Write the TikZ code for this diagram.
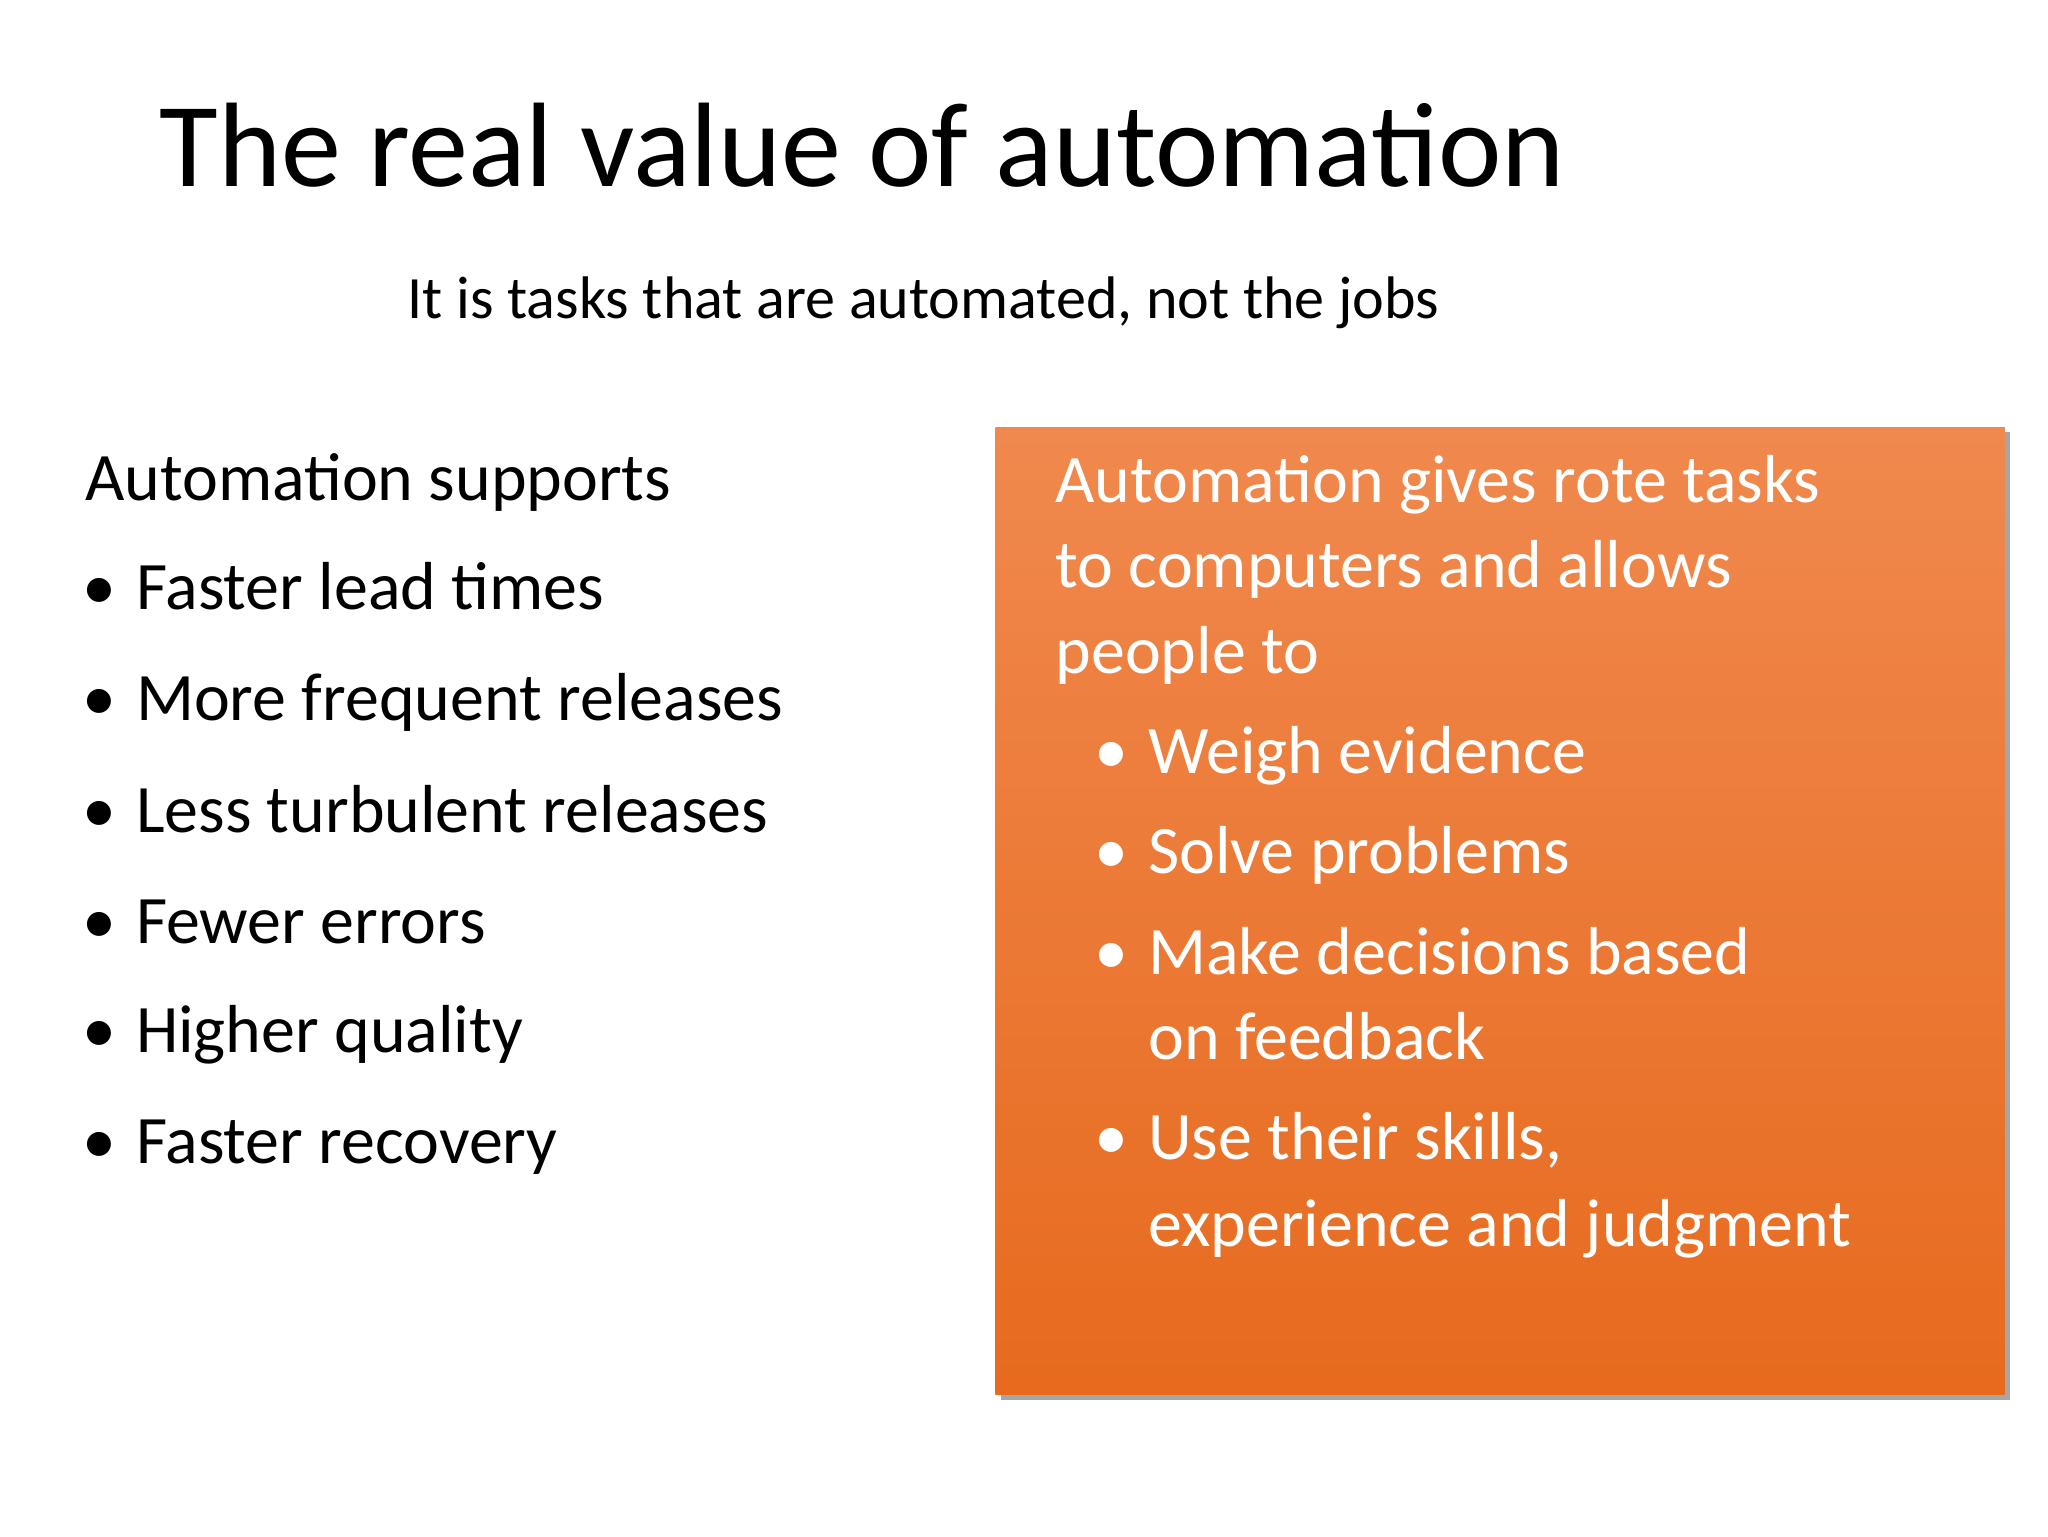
\documentclass[tikz,border=0pt]{standalone}
\usepackage{fontspec}
\setmainfont{Carlito}
\usetikzlibrary{shadows}
\definecolor{otop}{HTML}{F0894E}
\definecolor{obot}{HTML}{E76A1E}
\tikzset{
 ltxt/.style={anchor=base west,inner sep=0pt,font=\fontsize{52}{60}\selectfont,text=black},
 rtxt/.style={anchor=base west,inner sep=0pt,font=\fontsize{52}{60}\selectfont,text=white},
 bul/.style={anchor=base west,inner sep=0pt,font=\fontsize{52}{60}\selectfont}
}
\begin{document}
\begin{tikzpicture}[x=1pt,y=-1pt]
\useasboundingbox (0,0) rectangle (1568,1176);
\node[anchor=base west,inner sep=0pt,font=\fontsize{92}{100}\selectfont] (title) at (122,143) {The real value of automation};
\node[anchor=base west,inner sep=0pt,font=\fontsize{46}{52}\selectfont] (sub) at (312,244) {It is tasks that are automated, not the jobs};
\node[ltxt] (lh) at (65,383) {Automation supports};
\foreach \t/\yy [count=\i] in {Faster lead times/467,More frequent releases/552,Less turbulent releases/637,Fewer errors/722,Higher quality/806,Faster recovery/891}{
 \node[bul] (lb\i) at (63,\yy) {•};
 \node[ltxt] (l\i) at (104,\yy) {\t};
}
\fill[black!35] (766,331) rectangle (1539,1072);
\shade[top color=otop,bottom color=obot] (762,327) rectangle (1535,1068);
\node[rtxt] (r1) at (808,385) {Automation gives rote tasks};
\node[rtxt] (r2) at (808,450) {to computers and allows};
\node[rtxt] (r3) at (808,516) {people to};
\foreach \yy [count=\i] in {592,669,746,888}{
 \node[bul,text=white] (rb\i) at (838,\yy) {•};
}
\node[rtxt] (ra) at (879,592) {Weigh evidence};
\node[rtxt] (rb) at (879,669) {Solve problems};
\node[rtxt] (rc) at (879,746) {Make decisions based};
\node[rtxt] (rd) at (879,811) {on feedback};
\node[rtxt] (re) at (879,888) {Use their skills,};
\node[rtxt] (rf) at (879,954) {experience and judgment};
\end{tikzpicture}
\end{document}
